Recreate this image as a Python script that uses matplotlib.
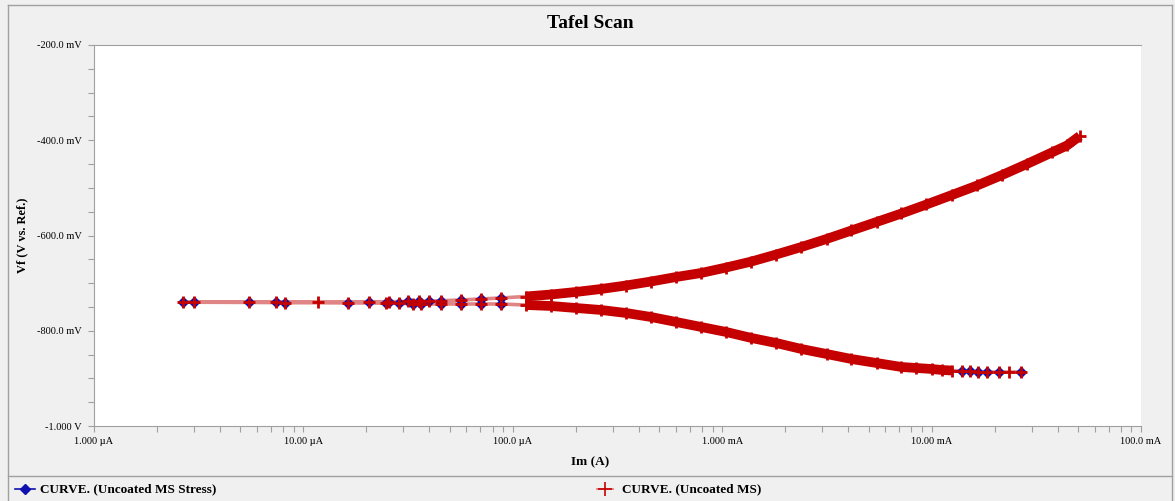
import matplotlib
matplotlib.use("Agg")
import matplotlib.pyplot as plt
from matplotlib.lines import Line2D
from matplotlib.ticker import FixedLocator, FixedFormatter, LogLocator, MultipleLocator, NullFormatter

BG, FRAME, INK = "#f0f0f0", "#a0a0a0", "#000000"
RED, PINK, BLUE = "#c40000", "#e08585", "#1010b0"
SERIF = ["Liberation Serif", "DejaVu Serif"]

# sweep order: cathodic branch (high |I| -> Ecorr), then anodic branch (Ecorr -> high |I|)
# current in A, potential in mV vs. ref
ms_im = [2.67e-2, 2.33e-2, 2.10e-2, 1.83e-2, 1.66e-2, 1.52e-2, 1.39e-2, 1.25e-2, 1.12e-2,
         1.00e-2, 8.47e-3, 7.18e-3, 5.46e-3, 4.14e-3, 3.15e-3, 2.39e-3, 1.81e-3, 1.38e-3,
         1.045e-3, 7.94e-4, 6.03e-4, 4.57e-4, 3.47e-4, 2.64e-4, 2.00e-4, 1.52e-4, 1.15e-4,
         8.77e-5, 7.03e-5, 5.64e-5, 4.53e-5, 3.63e-5,
         3.32e-5, 2.85e-5, 2.47e-5, 1.64e-5, 8.20e-6, 5.52e-6, 2.67e-6,
         3.01e-6, 7.43e-6, 1.18e-5, 2.05e-5, 2.55e-5, 3.15e-5, 3.55e-5, 3.96e-5,
         4.53e-5, 5.64e-5, 7.03e-5, 8.77e-5, 1.15e-4, 1.52e-4, 2.00e-4, 2.64e-4, 3.47e-4,
         4.57e-4, 6.03e-4, 7.94e-4, 1.045e-3, 1.38e-3, 1.81e-3, 2.39e-3, 3.15e-3, 4.14e-3,
         5.46e-3, 7.18e-3, 9.45e-3, 1.25e-2, 1.65e-2, 2.17e-2, 2.85e-2, 3.75e-2, 4.43e-2,
         5.10e-2]
ms_vf = [-886.6, -886.6, -886.6, -886.6, -886.6, -885.5, -884.5, -883.5, -882.4,
         -880.3, -878.2, -876.1, -867.7, -859.3, -848.8, -838.3, -825.7, -815.2,
         -802.6, -792.1, -781.6, -771.1, -762.7, -756.4, -752.2, -748.0, -745.9,
         -743.8, -743.8, -743.8, -743.8, -743.8,
         -743.0, -742.5, -742.0, -741.5, -741.0, -740.5, -740.0,
         -739.8, -739.6, -739.4, -739.2, -739.0, -738.5, -738.0, -737.5,
         -737.0, -735.4, -733.3, -731.2, -728.1, -723.9, -718.6, -712.3, -705.0,
         -696.6, -687.1, -678.7, -667.2, -654.6, -639.9, -624.1, -607.3, -589.5,
         -571.6, -553.8, -534.9, -515.0, -495.0, -473.0, -449.9, -425.7, -411.0,
         -391.1]

stress_im = [2.67e-2, 2.10e-2, 1.83e-2, 1.66e-2, 1.52e-2, 1.39e-2, 1.25e-2, 1.12e-2,
             1.00e-2, 8.47e-3, 7.18e-3, 5.46e-3, 4.14e-3, 3.15e-3, 2.39e-3, 1.81e-3, 1.38e-3,
             1.045e-3, 7.94e-4, 6.03e-4, 4.57e-4, 3.47e-4, 2.64e-4, 2.00e-4, 1.52e-4, 1.15e-4,
             8.77e-5, 7.03e-5, 5.64e-5, 4.53e-5, 3.63e-5,
             3.32e-5, 2.85e-5, 2.47e-5, 1.64e-5, 8.20e-6, 5.52e-6, 2.67e-6,
             3.01e-6, 7.43e-6, 2.05e-5, 2.55e-5, 3.15e-5, 3.55e-5, 3.96e-5,
             4.53e-5, 5.64e-5, 7.03e-5, 8.77e-5, 1.15e-4, 1.52e-4, 2.00e-4, 2.64e-4, 3.47e-4,
             4.57e-4, 6.03e-4, 7.94e-4, 1.045e-3, 1.38e-3, 1.81e-3, 2.39e-3, 3.15e-3, 4.14e-3,
             5.46e-3, 7.18e-3, 9.45e-3, 1.25e-2, 1.65e-2, 2.17e-2, 2.85e-2, 3.75e-2, 4.43e-2,
             5.10e-2]
stress_vf = [-886.6, -886.6, -886.6, -886.6, -885.5, -884.5, -883.5, -882.4,
             -880.3, -878.2, -876.1, -867.7, -859.3, -848.8, -838.3, -825.7, -815.2,
             -802.6, -792.1, -781.6, -771.1, -762.7, -756.4, -752.2, -748.0, -745.9,
             -743.8, -743.8, -743.8, -743.8, -743.8,
             -743.0, -742.5, -742.0, -741.5, -741.0, -740.5, -740.0,
             -739.8, -739.6, -739.2, -739.0, -738.5, -738.0, -737.5,
             -737.0, -735.4, -733.3, -731.2, -728.1, -723.9, -718.6, -712.3, -705.0,
             -696.6, -687.1, -678.7, -667.2, -654.6, -639.9, -624.1, -607.3, -589.5,
             -571.6, -553.8, -534.9, -515.0, -495.0, -473.0, -449.9, -425.7, -411.0,
             -391.1]

x_ticks = [1e-6, 1e-5, 1e-4, 1e-3, 1e-2, 1e-1]
x_labels = ["1.000 µA", "10.00 µA", "100.0 µA", "1.000 mA", "10.00 mA", "100.0 mA"]
y_ticks = [-200, -400, -600, -800, -1000]
y_labels = ["-200.0 mV", "-400.0 mV", "-600.0 mV", "-800.0 mV", "-1.000 V"]


def dense_mask(im):
    # the sweep is densely sampled except near Ecorr and at the far cathodic tail
    turn = im.index(min(im))
    return [c >= 1.15e-4 and not (i < turn and c > 1.3e-2) for i, c in enumerate(im)]


def runs(mask):
    out, start = [], None
    for i, m in enumerate(mask + [False]):
        if m and start is None:
            start = i
        elif not m and start is not None:
            out.append((start, i))
            start = None
    return out


W, H = 1175, 501
fig = plt.figure(figsize=(W / 100, H / 100), dpi=100, facecolor=BG)
ax = fig.add_axes([94 / W, 1 - 426 / H, (1141 - 94) / W, (426 - 45) / H])
ax.set_facecolor("white")
ax.set_xscale("log")
ax.set_xlim(1e-6, 1e-1)
ax.set_ylim(-1000, -200)

# blue series: thin line, diamonds visible only where the red crosses don't pile up
sparse = [i for i, m in enumerate(dense_mask(stress_im)) if not m]
ax.plot(stress_im, stress_vf, color=BLUE, lw=1.0, zorder=1)
ax.plot(stress_im, stress_vf, ls="none", marker="D", ms=5.5, mfc=BLUE, mec=BLUE,
        markevery=sparse, zorder=3)

# red series: pale connecting line, solid band where the crosses overlap
ax.plot(ms_im, ms_vf, color=PINK, lw=2.6, zorder=2)
for a, b in runs(dense_mask(ms_im)):
    ax.plot(ms_im[a:b], ms_vf[a:b], color=RED, lw=7, solid_joinstyle="round",
            solid_capstyle="butt", zorder=2.5)
ax.plot(ms_im, ms_vf, ls="none", marker="+", ms=9, mew=2.0, color=RED, zorder=4)

ax.spines["right"].set_visible(False)
for side in ("left", "bottom", "top"):
    ax.spines[side].set_color(FRAME)
    ax.spines[side].set_linewidth(0.8)

ax.xaxis.set_major_locator(FixedLocator(x_ticks))
ax.xaxis.set_major_formatter(FixedFormatter(x_labels))
ax.xaxis.set_minor_locator(LogLocator(base=10, subs=range(2, 10)))
ax.xaxis.set_minor_formatter(NullFormatter())
ax.yaxis.set_major_locator(FixedLocator(y_ticks))
ax.yaxis.set_major_formatter(FixedFormatter(y_labels))
ax.yaxis.set_minor_locator(MultipleLocator(50))
ax.tick_params(which="both", direction="out", length=4, width=0.8, color=FRAME)
ax.tick_params(axis="x", which="major", pad=4, labelsize=7.5)
ax.tick_params(axis="y", which="major", pad=5, labelsize=7.5)
for lab in ax.get_xticklabels() + ax.get_yticklabels():
    lab.set_family(SERIF)

fig.text(590 / W, 1 - 24 / H, "Tafel Scan", ha="center", va="center",
         fontsize=14, fontweight="bold", family=SERIF)
fig.text(22 / W, 1 - 235 / H, "Vf (V vs. Ref.)", ha="center", va="center", rotation=90,
         fontsize=9, fontweight="bold", family=SERIF)
fig.text(590 / W, 1 - 462 / H, "Im (A)", ha="center", va="center",
         fontsize=9.5, fontweight="bold", family=SERIF)


# outer frame and legend strip, in pixel coordinates of the figure
def fline(xs, ys, **kw):
    fig.add_artist(Line2D([x / W for x in xs], [1 - y / H for y in ys],
                          transform=fig.transFigure, **kw))


fline([8, 8], [5, 501], color=FRAME, lw=1.0)
fline([8, 1172], [5, 5], color=FRAME, lw=1.0)
fline([1172, 1172], [5, 501], color=FRAME, lw=1.0)
fline([8, 1172], [476, 476], color=FRAME, lw=1.0)

fline([15, 25, 35], [489, 489, 489], color=BLUE, lw=1.2, marker="D", ms=5,
      mfc=BLUE, mec=BLUE, markevery=[1])
fig.text(40 / W, 1 - 489 / H, "CURVE. (Uncoated MS Stress)", ha="left", va="center",
         fontsize=9.5, fontweight="bold", family=SERIF)
fline([597, 605, 613], [489, 489, 489], color="#e07070", lw=1.2, marker="+", ms=10,
      mew=1.2, mec=RED, markevery=[1])
fig.text(622 / W, 1 - 489 / H, "CURVE. (Uncoated MS)", ha="left", va="center",
         fontsize=9.5, fontweight="bold", family=SERIF)

fig.savefig("out.png", dpi=100, facecolor=BG)
